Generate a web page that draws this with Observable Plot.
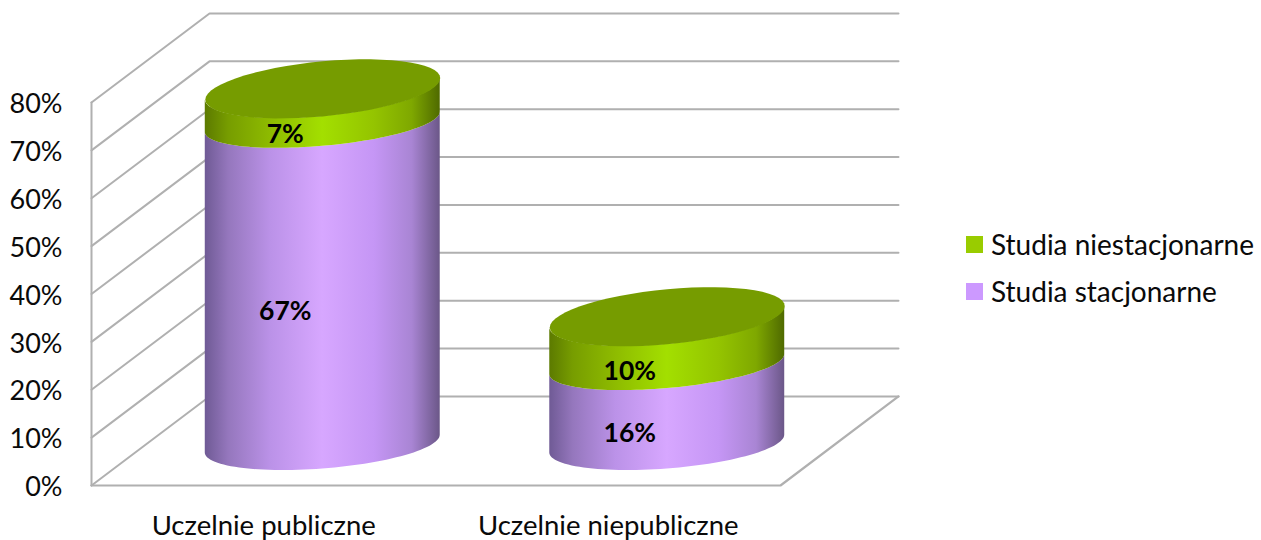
<!DOCTYPE html>
<html lang="pl">
<head>
<meta charset="utf-8">
<script src="https://cdn.jsdelivr.net/npm/d3@7"></script>
<script src="https://cdn.jsdelivr.net/npm/@observablehq/plot@0.6"></script>
<style>
  html, body { margin: 0; padding: 0; background: #fff; width: 1261px; height: 540px; overflow: hidden; }
  #chart { position: relative; width: 1261px; height: 540px; font-family: Lato, sans-serif; }
  #chart svg { position: absolute; left: 0; top: 0; overflow: visible; }
  .legend { position: absolute; left: 966px; top: 221px; color: #0a0a0a; font-size: 28px; line-height: 47px; }
  .legend div { display: flex; align-items: center; gap: 8px; }
  .legend i { display: block; width: 17px; height: 17px; }
</style>
</head>
<body>
<div id="chart"></div>
<script>
// Data
const categories = ["Uczelnie publiczne", "Uczelnie niepubliczne"];
const stacjonarne = [67, 16];
const niestacjonarne = [7, 10];
const seriesNames = ["Studia niestacjonarne", "Studia stacjonarne"];
const seriesColors = ["#99cc00", "#cc99ff"];
const yTicks = [0, 10, 20, 30, 40, 50, 60, 70, 80];

// 3D projection, in scale units
const depthX = 0.3425;       // category units the full floor depth shifts right
const depthV = 18.6;         // percent units the full floor depth shifts up
const radius = 0.341;        // cylinder half width in category units
const tiltTop = 2.25, flatTop = 5.75;
const tiltMid = 2.1, flatMid = 5.0;
const tiltBase = 1.85, flatBase = 5.2;
const centerDepth = 0.465;
const lift = [0.2, 0.6];     // small perspective lift of the upper edges

const steps = d3.range(0, 61);
const arc = (center, v, tilt, flat, from, to) => steps.map(s => {
  const t = from + (to - from) * s / 60;
  return {x: center + radius * Math.cos(t), y: v + tilt * Math.cos(t) - flat * Math.sin(t)};
});

const marks = [];

// Gradients
const defs = () => {
  const d = d3.create("svg:defs");
  const grad = (id, stops) => {
    const g = d.append("linearGradient").attr("id", id).attr("x1", 0).attr("x2", 1).attr("y1", 0).attr("y2", 0);
    stops.forEach(([o, c]) => g.append("stop").attr("offset", o).attr("stop-color", c));
  };
  grad("gPurple", [[0, "#6f5a95"], [0.1, "#9577bd"], [0.28, "#bb92e8"], [0.5, "#d7a7ff"], [0.72, "#c596f5"], [0.88, "#a985d4"], [1, "#6b5788"]]);
  grad("gGreen", [[0, "#5c7a00"], [0.1, "#779d00"], [0.28, "#8ebb00"], [0.5, "#a3df00"], [0.72, "#94c400"], [0.88, "#7fa800"], [1, "#4f6a00"]]);
  return d.node();
};
marks.push(defs);

// Walls and grid
const gridColor = "#b0b0b0";
for (const v of yTicks) {
  marks.push(Plot.line(
    [{x: 0, y: v}, {x: depthX, y: v + depthV}, {x: 2 + depthX, y: v + depthV}],
    {x: "x", y: "y", stroke: gridColor, strokeWidth: 2}
  ));
}
marks.push(Plot.line([{x: 0, y: 0}, {x: 0, y: 80}], {x: "x", y: "y", stroke: gridColor, strokeWidth: 2}));
marks.push(Plot.line(
  [{x: 0, y: 0}, {x: 2, y: 0}, {x: 2 + depthX, y: depthV}],
  {x: "x", y: "y", stroke: gridColor, strokeWidth: 2.2}
));

// Cylinders
categories.forEach((c, i) => {
  const center = i + 0.5 + depthX * centerDepth + 0.012;
  const base = depthV * centerDepth;
  const v1 = base + stacjonarne[i];
  const v2 = v1 + niestacjonarne[i];
  const mid = v1 + lift[i];
  const top = v2 + lift[i];
  const body = (lowV, lowTilt, lowFlat, highV, highTilt, highFlat, fill) => {
    const low = arc(center, lowV, lowTilt, lowFlat, 0, Math.PI);
    const high = arc(center, highV, highTilt, highFlat, 0, Math.PI);
    return Plot.area(low.map((p, k) => ({x: p.x, y1: p.y, y2: high[k].y})),
      {x1: "x", y1: "y1", y2: "y2", fill});
  };
  marks.push(body(base, tiltBase, flatBase, mid, tiltMid, flatMid, "url(#gPurple)"));
  marks.push(body(mid, tiltMid, flatMid, top, tiltTop, flatTop, "url(#gGreen)"));
  marks.push(Plot.line(arc(center, top, tiltTop, flatTop, 0, 2 * Math.PI),
    {x: "x", y: "y", fill: "#769c00", stroke: "none"}));
  const labelX = i + 0.5625, drop = 5.85;
  marks.push(Plot.text(
    [{x: labelX, y: base + stacjonarne[i] / 2 - drop, t: stacjonarne[i] + "%"},
     {x: labelX, y: v1 + niestacjonarne[i] / 2 - drop, t: niestacjonarne[i] + "%"}],
    {x: "x", y: "y", text: "t", fontSize: 26.5, fontWeight: 700, fill: "#000", fontFamily: "Lato, sans-serif"}
  ));
});

// Axes
marks.push(Plot.axisY({
  ticks: yTicks, tickSize: 0, tickPadding: 29, tickFormat: d => d + "%", label: null,
  fontSize: 27, fontFamily: "Lato, sans-serif", fill: "#0a0a0a", dy: 2
}));
marks.push(Plot.axisX({
  ticks: categories.map((_, i) => i + 0.5), tickFormat: d => categories[d - 0.5],
  tickSize: 0, tickPadding: 30, label: null,
  fontSize: 27.5, fontFamily: "Lato, sans-serif", fill: "#0a0a0a"
}));

const plot = Plot.plot({
  width: 1261, height: 540,
  marginLeft: 91, marginRight: 481, marginTop: 102, marginBottom: 55,
  x: {type: "linear", domain: [0, 2], label: null},
  y: {type: "linear", domain: [0, 80], label: null},
  style: {background: "transparent"},
  marks
});

const root = document.getElementById("chart");
root.appendChild(plot);

// Legend
const legend = d3.select(root).append("div").attr("class", "legend");
seriesNames.forEach((n, i) => {
  const row = legend.append("div");
  row.append("i").style("background", seriesColors[i]);
  row.append("span").text(n);
});
</script>
</body>
</html>
